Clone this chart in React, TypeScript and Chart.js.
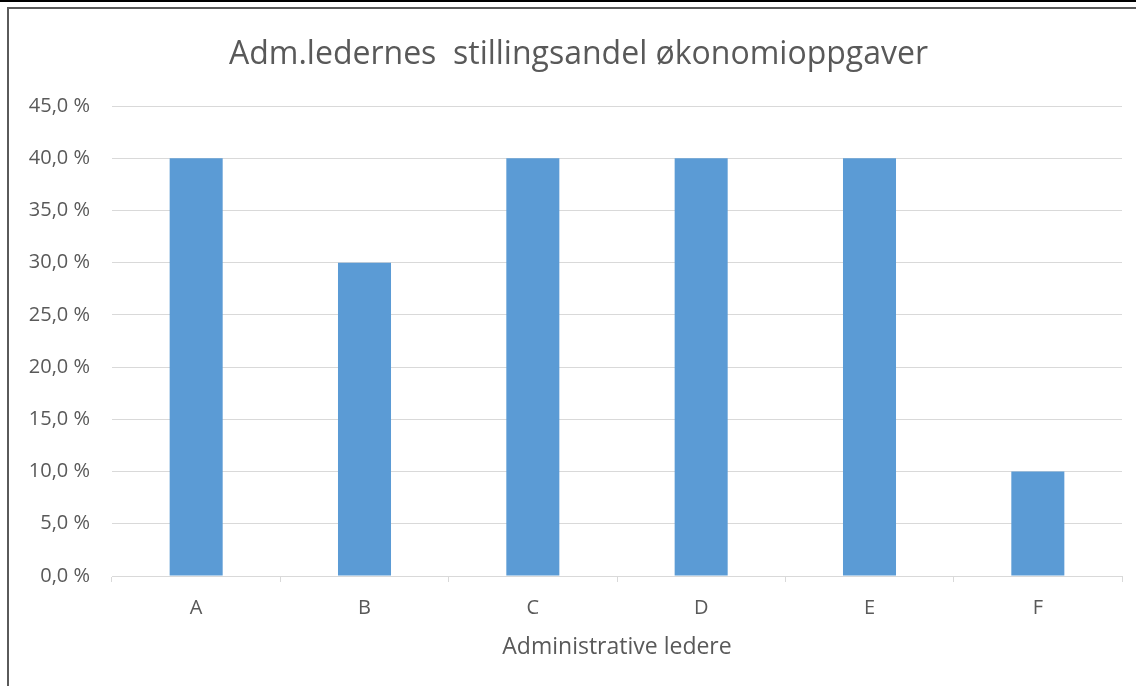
import React, { useEffect, useRef } from "react";
import { Chart, registerables } from "chart.js";

Chart.register(...registerables);

const categories = ["A", "B", "C", "D", "E", "F"];
const values = [40, 30, 40, 40, 40, 10];
const chartTitle = "Adm.ledernes  stillingsandel økonomioppgaver";
const xTitle = "Administrative ledere";
const yMax = 45;
const yStep = 5;

const FONT = "'Open Sans', 'DejaVu Sans', sans-serif";
const TEXT = "#595959";
const GRID = "#d9d9d9";

const titlePlugin = {
  id: "frameTitle",
  afterDraw(chart: any) {
    const ctx = chart.ctx;
    ctx.save();
    ctx.font = `32px ${FONT}`;
    ctx.fillStyle = TEXT;
    ctx.textAlign = "center";
    ctx.textBaseline = "alphabetic";
    ctx.fillText(chartTitle, (chart.width + 21) / 2, 64);
    ctx.restore();
  },
};

export default function App() {
  const ref = useRef<HTMLCanvasElement | null>(null);

  useEffect(() => {
    const canvas = ref.current;
    if (!canvas) return;
    const chart = new Chart(canvas, {
      type: "bar",
      data: {
        labels: categories,
        datasets: [
          {
            data: values,
            backgroundColor: "#5b9bd5",
            borderWidth: 0,
            categoryPercentage: 1,
            barPercentage: 0.315,
          },
        ],
      },
      plugins: [titlePlugin],
      options: {
        animation: false,
        responsive: false,
        maintainAspectRatio: false,
        layout: { padding: { left: 0, right: 14, top: 106, bottom: 0 } },
        plugins: {
          legend: { display: false },
          tooltip: { enabled: false },
          title: { display: false },
        },
        scales: {
          x: {
            grid: {
              display: true,
              drawOnChartArea: false,
              drawTicks: true,
              tickLength: 6,
              color: GRID,
              offset: true,
            },
            border: { display: true, color: GRID, width: 1 },
            ticks: {
              color: TEXT,
              font: { family: FONT, size: 20 },
              padding: 14,
            },
            title: {
              display: true,
              text: xTitle,
              color: TEXT,
              font: { family: FONT, size: 23 },
              padding: { top: 0, bottom: 25 },
            },
            afterFit: (scale: any) => {
              scale.height = 110;
            },
          },
          y: {
            min: 0,
            max: yMax,
            grid: { color: GRID, drawTicks: false, lineWidth: 1 },
            border: { display: false },
            ticks: {
              stepSize: yStep,
              color: TEXT,
              font: { family: FONT, size: 20 },
              padding: 22,
              callback: (v: any) => Number(v).toFixed(1).replace(".", ",") + " %",
            },
            afterFit: (scale: any) => {
              scale.width = 112;
            },
          },
        },
      },
    });
    return () => chart.destroy();
  }, []);

  return (
    <div style={{ position: "fixed", left: 0, top: 0, width: 1136, height: 686, background: "#fff" }}>
      <canvas ref={ref} width={1136} height={686} style={{ position: "absolute", left: 0, top: 0, width: 1136, height: 686 }} />
      <div style={{ position: "absolute", left: 0, top: 0, width: 1136, height: 2, background: "#000" }} />
      <div style={{ position: "absolute", left: 7, top: 7, width: 1129, height: 2, background: "#5a5a5a" }} />
      <div style={{ position: "absolute", left: 7, top: 7, width: 2, height: 679, background: "#5a5a5a" }} />
    </div>
  );
}
